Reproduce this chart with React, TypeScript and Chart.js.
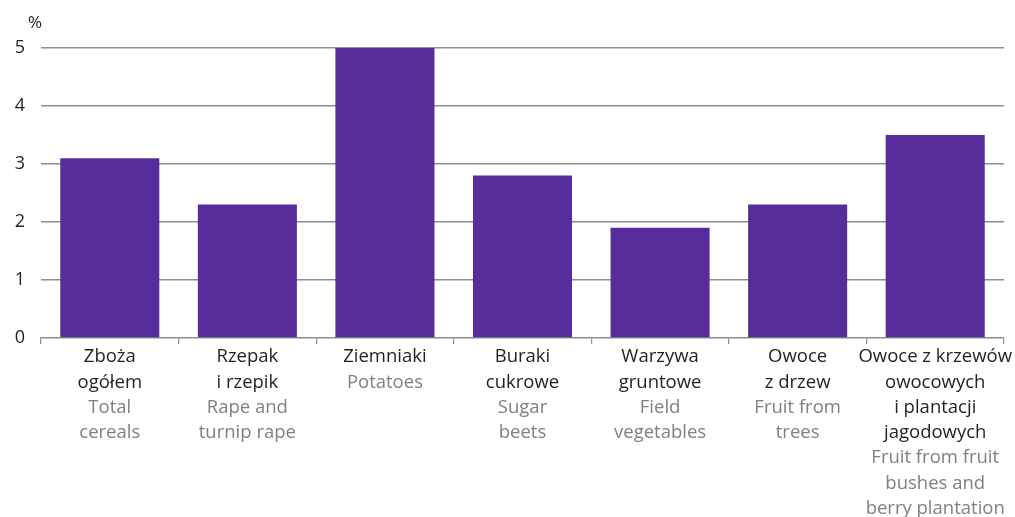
import React, { useEffect, useRef } from "react";
import { Chart, registerables } from "chart.js";

Chart.register(...registerables);

const categoriesPl: string[][] = [
  ["Zboża", "ogółem"],
  ["Rzepak", "i rzepik"],
  ["Ziemniaki"],
  ["Buraki", "cukrowe"],
  ["Warzywa", "gruntowe"],
  ["Owoce", "z drzew"],
  ["Owoce z krzewów", "owocowych", "i plantacji", "jagodowych"],
];
const categoriesEn: string[][] = [
  ["Total", "cereals"],
  ["Rape and", "turnip rape"],
  ["Potatoes"],
  ["Sugar", "beets"],
  ["Field", "vegetables"],
  ["Fruit from", "trees"],
  ["Fruit from fruit", "bushes and", "berry plantation"],
];
const values: number[] = [3.1, 2.3, 5.0, 2.8, 1.9, 2.3, 3.5];
const yTicks: number[] = [0, 1, 2, 3, 4, 5];
const unitLabel = "%";

const FONT = "'Open Sans', 'Noto Sans', sans-serif";
const DARK = "#231f20";
const GRAY = "#808080";
const GRID = "#8e8e8e";
const BAR = "#572c9b";

const labelPlugin = {
  id: "twoColorLabels",
  afterDraw(chart: any) {
    const ctx = chart.ctx;
    const xs = chart.scales.x;
    const ys = chart.scales.y;
    ctx.save();
    ctx.textAlign = "center";
    ctx.textBaseline = "middle";
    ctx.font = `18.5px ${FONT}`;
    const lineH = 25.3;
    const startY = xs.top + 19;
    categoriesPl.forEach((pl, i) => {
      const x = xs.getPixelForValue(i);
      let y = startY;
      ctx.fillStyle = DARK;
      pl.forEach((t) => {
        ctx.fillText(t, x, y);
        y += lineH;
      });
      ctx.fillStyle = GRAY;
      categoriesEn[i].forEach((t) => {
        ctx.fillText(t, x, y);
        y += lineH;
      });
    });
    ctx.fillStyle = DARK;
    ctx.font = `17px ${FONT}`;
    ctx.fillText(unitLabel, ys.right - 6, ys.top - 25);
    ctx.restore();
  },
};

export default function App() {
  const ref = useRef<HTMLCanvasElement | null>(null);
  useEffect(() => {
    document.body.style.margin = "0";
    if (!ref.current) return;
    const chart = new Chart(ref.current, {
      type: "bar",
      data: {
        labels: categoriesPl.map((c) => c.join(" ")),
        datasets: [
          {
            data: values,
            backgroundColor: BAR,
            borderWidth: 0,
            barPercentage: 0.72,
            categoryPercentage: 1,
          },
        ],
      },
      options: {
        animation: false,
        responsive: false,
        maintainAspectRatio: false,
        layout: { padding: { top: 48, right: 11, left: 0, bottom: 0 } },
        plugins: { legend: { display: false }, tooltip: { enabled: false }, title: { display: false } },
        scales: {
          x: {
            ticks: { display: false },
            grid: {
              offset: true,
              drawOnChartArea: false,
              drawTicks: true,
              tickLength: 6,
              color: GRID,
              lineWidth: 1.2,
            },
            border: { display: true, color: GRID, width: 1.5 },
            afterFit: (s: any) => {
              s.height = 179;
            },
          },
          y: {
            min: 0,
            max: 5,
            afterBuildTicks: (s: any) => {
              s.ticks = yTicks.map((v) => ({ value: v }));
            },
            ticks: {
              color: DARK,
              font: { family: FONT, size: 18 },
              padding: 16,
            },
            grid: {
              drawTicks: false,
              color: (c: any) => (c.tick && c.tick.value === 0 ? "rgba(0,0,0,0)" : GRID),
              lineWidth: 1.5,
            },
            border: { display: false },
            afterFit: (s: any) => {
              s.width = 41;
            },
          },
        },
      },
      plugins: [labelPlugin],
    });
    return () => chart.destroy();
  }, []);
  return (
    <div style={{ width: 1015, height: 517 }}>
      <canvas ref={ref} width={1015} height={517} style={{ display: "block" }} />
    </div>
  );
}
